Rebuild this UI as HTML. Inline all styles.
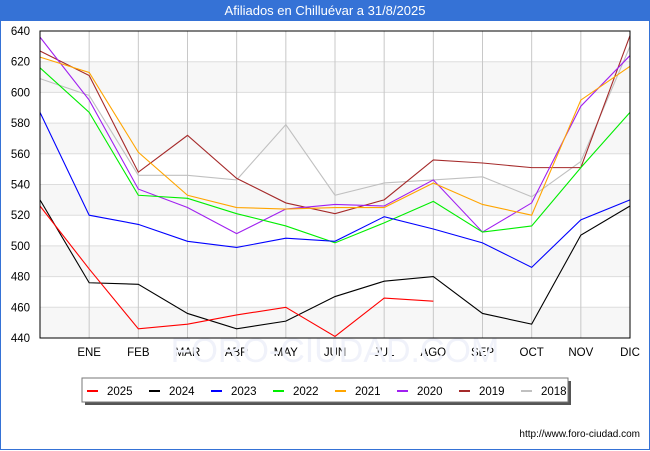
<!DOCTYPE html>
<html><head><meta charset="utf-8"><style>
body{margin:0;background:#fff;font-family:"Liberation Sans","DejaVu Sans",sans-serif}
#wrap{position:relative;width:648px;height:449px;border:1px solid #3572d6;border-top:none}
#title{height:21px;background:#3572d6;color:#fff;font-size:13px;text-align:center;line-height:22px}
</style></head><body>
<div id="wrap">
<div id="title">Afiliados en Chilluévar a 31/8/2025</div>
<svg id="chart" width="650" height="430" style="position:absolute;left:-1px;top:21px"></svg>
</div>
<script>
const months=["","ENE","FEB","MAR","ABR","MAY","JUN","JUL","AGO","SEP","OCT","NOV","DIC"];
const yTicks=[440,460,480,500,520,540,560,580,600,620,640];
const years=["2025","2024","2023","2022","2021","2020","2019","2018"];
const colors=["#ff0000","#000000","#0000ff","#00ee00","#ffa500","#a020f0","#a52a2a","#c0c0c0"];
const s2025=[526,485,446,449,455,460,441,466,464];
const s2024=[530,476,475,456,446,451,467,477,480,456,449,507,526];
const s2023=[587,520,514,503,499,505,503,519,511,502,486,517,530];
const s2022=[616,587,533,531,521,513,502,515,529,509,513,551,587];
const s2021=[623,613,561,533,525,524,525,525,541,527,520,595,617];
const s2020=[636,595,537,525,508,524,527,526,543,509,528,591,624];
const s2019=[627,611,548,572,544,528,521,530,556,554,551,551,637];
const s2018=[609,598,546,546,543,579,533,541,543,545,532,555,630];
const series=[s2025,s2024,s2023,s2022,s2021,s2020,s2019,s2018];
const NS="http://www.w3.org/2000/svg";
const svg=document.getElementById('chart');
const L=40,R=630,T=10,B=317;
const x=i=>L+(R-L)*i/12;
const y=v=>B-(v-440)/(640-440)*(B-T);
function mk(tag,at,p){const e=document.createElementNS(NS,tag);for(const k in at)e.setAttribute(k,at[k]);(p||svg).appendChild(e);return e;}
for(let i=0;i<yTicks.length-1;i++){
 if(i%2==0){const b=mk('rect',{x:L,y:y(yTicks[i+1]),width:R-L,height:y(yTicks[i])-y(yTicks[i+1]),fill:'#f7f7f7'});
 
 }
}
yTicks.forEach(v=>{
 const g=mk('line',{x1:L,x2:R,y1:y(v),y2:y(v),stroke:'#dddddd'});
 
 
 const t=mk('text',{x:L-10,y:y(v)+4,'font-size':'11.5','text-anchor':'end',fill:'#000'});
 t.textContent=v;
 
 
});
months.forEach((m,i)=>{
 if(i>0){const g=mk('line',{x1:x(i),x2:x(i),y1:T,y2:B,stroke:'#c8c8c8'});
 
 }
 const t=mk('text',{x:x(i),y:B+18,'font-size':'11.5','text-anchor':'middle',fill:'#000'});
 t.textContent=m;
 
 
});
const wm=mk('text',{x:335,y:B+24,'font-size':'34','text-anchor':'middle',fill:'#f0f2fa'});
wm.textContent='FORO-CIUDAD.COM';


for(let k=series.length-1;k>=0;k--){
 const pts=series[k].map((v,i)=>x(i)+','+y(v)).join(' ');
 const pl=mk('polyline',{points:pts,fill:'none',stroke:colors[k],'stroke-width':'1.1'});
 
 
}
const fr=mk('rect',{x:L,y:T,width:R-L,height:B-T,fill:'none',stroke:'#000'});


const lg=mk('g',{});


mk('rect',{x:85,y:360,width:486,height:24,fill:'#555'},lg);
mk('rect',{x:82,y:357,width:486,height:24,fill:'#fff',stroke:'#777'},lg);
years.forEach((yr,k)=>{
 const e=mk('g',{},lg);
 
 
 mk('line',{x1:87+62*k,x2:98+62*k,y1:370,y2:370,stroke:colors[k],'stroke-width':2},e);
 const t=mk('text',{x:107+62*k,y:374,'font-size':'11.5',fill:'#000'},e);
 t.textContent=yr;
});
const f=mk('text',{x:640,y:416,'font-size':'10','text-anchor':'end',fill:'#000'});
f.textContent='http://www.foro-ciudad.com';


</script>
</body></html>
